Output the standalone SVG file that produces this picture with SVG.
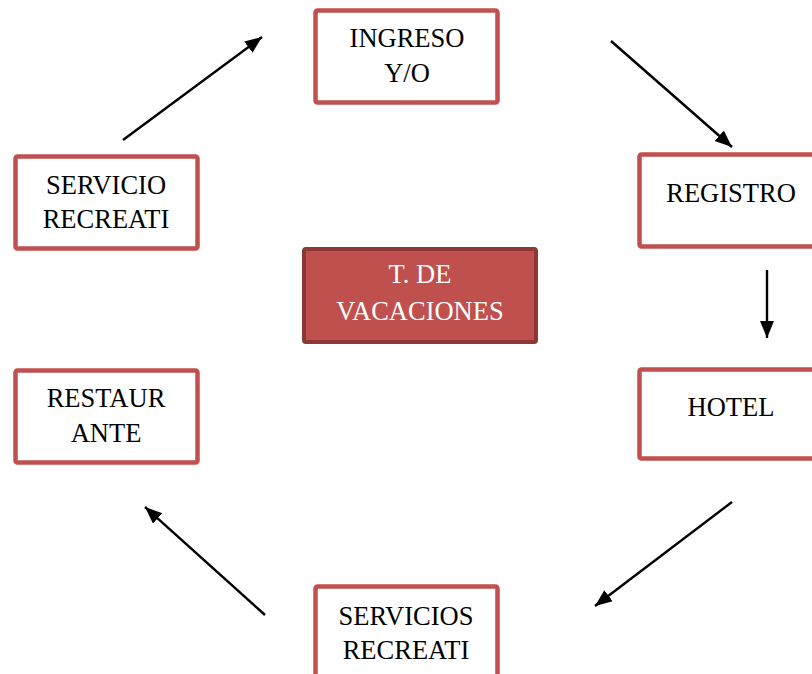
<svg xmlns="http://www.w3.org/2000/svg" width="812" height="674" viewBox="0 0 812 674">
<style>
.box{fill:#ffffff;stroke:#C0504D;stroke-width:4.5}
.main{fill:#C0504D;stroke:#8C3836;stroke-width:4}
.t{font-family:"Liberation Serif","Times New Roman",serif;font-size:26.5px;fill:#000;text-anchor:middle}
.tw{font-family:"Liberation Serif","Times New Roman",serif;font-size:26.5px;fill:#fff;text-anchor:middle}
.c{stroke:#000;stroke-width:2.4;fill:none;marker-end:url(#ah)}
</style>
<defs>
<marker id="ah" markerUnits="userSpaceOnUse" markerWidth="20" markerHeight="16" refX="17" refY="7" orient="auto">
<path d="M0,0 L17,7 L0,14 z" fill="#000"/>
</marker>
</defs>
<rect width="812" height="674" fill="#fff"/>
<g id="connectors">
<line class="c" x1="123" y1="140" x2="262" y2="37"/>
<line class="c" x1="611" y1="41" x2="732" y2="147"/>
<line class="c" x1="767" y1="270" x2="767" y2="338"/>
<line class="c" x1="732" y1="502" x2="595" y2="606"/>
<line class="c" x1="265" y1="615" x2="145" y2="507"/>
</g>
<g id="ingreso">
<rect class="box" x="315.5" y="10.5" width="182" height="92" rx="2"/>
<text class="t" x="407" y="47">INGRESO</text>
<text class="t" x="407" y="82">Y/O</text>
</g>
<g id="registro">
<rect class="box" x="639.5" y="154.5" width="184" height="92" rx="2"/>
<text class="t" x="731" y="202">REGISTRO</text>
</g>
<g id="hotel">
<rect class="box" x="639.5" y="369.5" width="184" height="89" rx="2"/>
<text class="t" x="731" y="416">HOTEL</text>
</g>
<g id="servicios">
<rect class="box" x="315.5" y="586.5" width="182" height="100" rx="2"/>
<text class="t" x="406" y="625">SERVICIOS</text>
<text class="t" x="406" y="659">RECREATI</text>
</g>
<g id="restaurante">
<rect class="box" x="15.5" y="370.5" width="182" height="92" rx="2"/>
<text class="t" x="106" y="407">RESTAUR</text>
<text class="t" x="106" y="442">ANTE</text>
</g>
<g id="servicio">
<rect class="box" x="15.5" y="156.5" width="182" height="92" rx="2"/>
<text class="t" x="106" y="194">SERVICIO</text>
<text class="t" x="106" y="228">RECREATI</text>
</g>
<g id="centro">
<rect class="main" x="304" y="249" width="232" height="93" rx="2"/>
<text class="tw" x="420" y="283">T. DE</text>
<text class="tw" x="420" y="320">VACACIONES</text>
</g>
</svg>
